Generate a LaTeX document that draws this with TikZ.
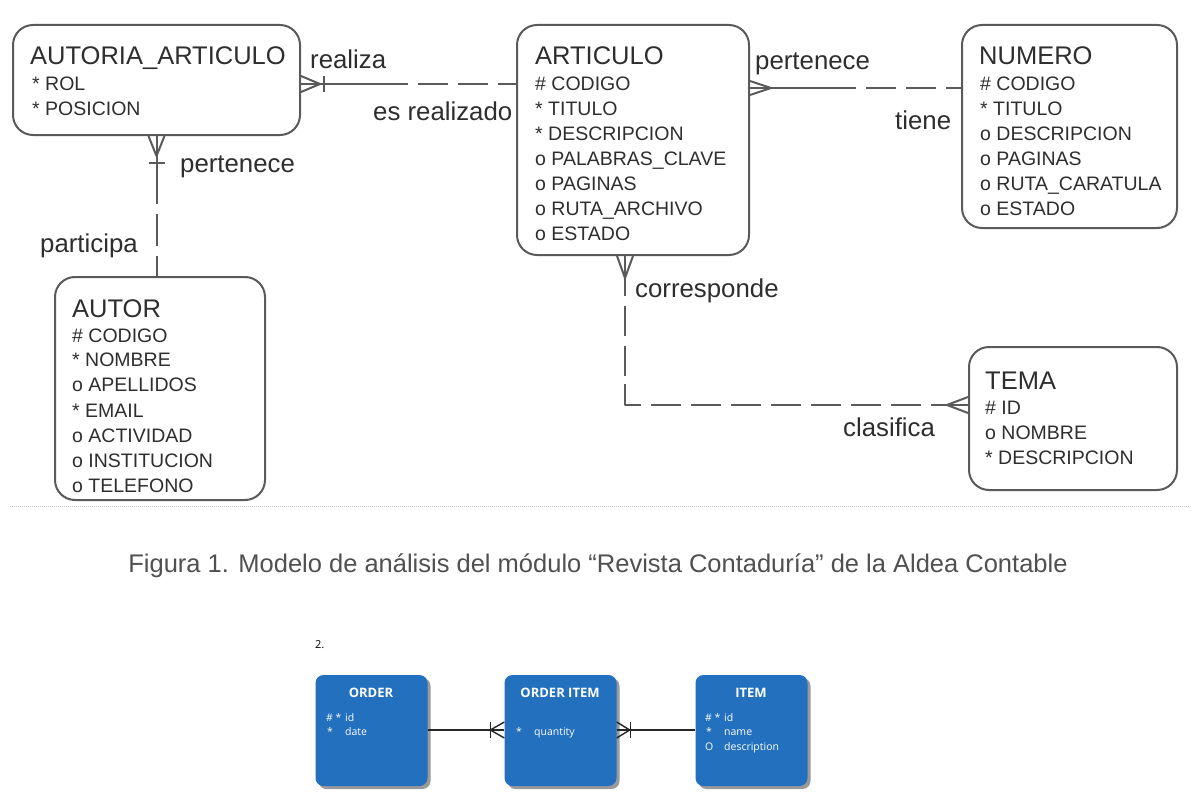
\documentclass[tikz,border=0pt]{standalone}
\usepackage{fontspec}
\setmainfont{Liberation Sans}
\newfontfamily\osfont{Open Sans}
\usetikzlibrary{calc}
\definecolor{linec}{HTML}{5A5A5A}
\definecolor{txtc}{HTML}{2E2E2E}
\definecolor{capc}{HTML}{505050}
\definecolor{bluebox}{HTML}{2270BE}
\definecolor{shade}{HTML}{9A9A9A}
\begin{document}
\begin{tikzpicture}[x=1pt,y=-1pt,
  ent/.style={draw=linec, line width=2pt, rounded corners=20pt, inner sep=0pt, fill=white},
  ttl/.style={anchor=base west, inner sep=0pt, font=\fontsize{25.5}{26}\selectfont, text=txtc},
  att/.style={anchor=base west, inner sep=0pt, font=\fontsize{19.5}{20}\selectfont, text=txtc},
  lbl/.style={anchor=base west, inner sep=0pt, font=\fontsize{25.8}{26}\selectfont, text=txtc},
  rel/.style={line width=2pt, draw=linec},
  dsh/.style={rel, dash pattern=on 30pt off 10pt, dash phase=30pt},
  bbox/.style={fill=bluebox, rounded corners=8pt, inner sep=0pt, minimum width=112pt, minimum height=111pt},
  bshadow/.style={fill=shade, rounded corners=8pt, inner sep=0pt, minimum width=112pt, minimum height=111pt},
  btl/.style={anchor=base, inner sep=0pt, text=white, font=\osfont\bfseries\fontsize{13}{13}\selectfont},
  bat/.style={anchor=base west, inner sep=0pt, text=white, font=\osfont\fontsize{10.5}{11}\selectfont},
  brel/.style={line width=1.4pt, draw=black!85}
]
\useasboundingbox[fill=white] (0,0) rectangle (1200,808);

% ---------- entities (top) ----------
\node[ent, minimum width=287pt, minimum height=110pt] (aa) at (156.5,80) {};
\node[ent, minimum width=232pt, minimum height=230pt] (art) at (633,140) {};
\node[ent, minimum width=215pt, minimum height=203pt] (num) at (1069.5,126.5) {};
\node[ent, minimum width=210pt, minimum height=223pt] (aut) at (160,388.5) {};
\node[ent, minimum width=208pt, minimum height=143pt] (tema) at (1073,418.5) {};

% AUTORIA_ARTICULO
\node[ttl] (aat) at (30,65) {AUTORIA\_ARTICULO};
\node[att] (aa1) at (32,91) {* ROL};
\node[att] (aa2) at (32,115) {* POSICION};

% ARTICULO
\node[ttl] (artt) at (535,65) {ARTICULO};
\node[att] (art1) at (535,91) {\# CODIGO};
\node[att] (art2) at (535,115) {* TITULO};
\node[att] (art3) at (535,140) {* DESCRIPCION};
\node[att] (art4) at (535,165) {o PALABRAS\_CLAVE};
\node[att] (art5) at (535,190) {o PAGINAS};
\node[att] (art6) at (535,215) {o RUTA\_ARCHIVO};
\node[att] (art7) at (535,240) {o ESTADO};

% NUMERO
\node[ttl] (numt) at (979,65) {NUMERO};
\node[att] (num1) at (980,91) {\# CODIGO};
\node[att] (num2) at (980,115) {* TITULO};
\node[att] (num3) at (980,140) {o DESCRIPCION};
\node[att] (num4) at (980,165) {o PAGINAS};
\node[att] (num5) at (980,190) {o RUTA\_CARATULA};
\node[att] (num6) at (980,215) {o ESTADO};

% AUTOR
\node[ttl] (autt) at (72,317) {AUTOR};
\node[att] (aut1) at (72,342) {\# CODIGO};
\node[att] (aut2) at (72,366) {* NOMBRE};
\node[att] (aut3) at (72,391) {o APELLIDOS};
\node[att] (aut4) at (72,417) {* EMAIL};
\node[att] (aut5) at (72,442) {o ACTIVIDAD};
\node[att] (aut6) at (72,467) {o INSTITUCION};
\node[att] (aut7) at (72,492) {o TELEFONO};

% TEMA
\node[ttl] (temt) at (985,389) {TEMA};
\node[att] (tem1) at (985,414) {\# ID};
\node[att] (tem2) at (985,439) {o NOMBRE};
\node[att] (tem3) at (985,464) {* DESCRIPCION};

% ---------- relationships ----------
% AUTORIA_ARTICULO -- ARTICULO
\coordinate (r1a) at ([yshift=-4pt]aa.east);
\coordinate (r1b) at (art.west |- r1a);
\coordinate (r1m) at ($(r1a)+(107,0)$);
\draw[rel] ($(r1a)+(19,0)$) -- ($(r1a)+(0,-8)$)
           ($(r1a)+(19,0)$) -- ($(r1a)+(0,8)$);
\draw[rel] ($(r1a)+(23,-8)$) -- ($(r1a)+(23,8)$);
\draw[rel] (r1a) -- (r1m);
\draw[dsh] (r1m) -- (r1b);
\node[lbl] (l1) at (310,69) {realiza};
\node[lbl] (l2) at (373,121) {es realizado};

% ARTICULO -- NUMERO
\coordinate (r2a) at (art.east |- 0,88);
\coordinate (r2b) at (num.west |- r2a);
\coordinate (r2m) at ($(r2a)+(106,0)$);
\draw[rel] ($(r2a)+(21,0)$) -- ($(r2a)+(0,-7)$)
           ($(r2a)+(21,0)$) -- ($(r2a)+(0,7)$);
\draw[rel] (r2a) -- (r2m);
\draw[dsh] (r2m) -- (r2b);
\node[lbl] (l3) at (755,70) {pertenece};
\node[lbl] (l4) at (895,129) {tiene};

% AUTORIA_ARTICULO -- AUTOR
\coordinate (r3a) at (aa.south);
\coordinate (r3b) at (aut.north -| r3a);
\coordinate (r3m) at ($(r3a)+(0,68)$);
\draw[rel] ($(r3a)+(0,20)$) -- ($(r3a)+(-8,0)$)
           ($(r3a)+(0,20)$) -- ($(r3a)+(8,0)$);
\draw[rel] ($(r3a)+(-8,27)$) -- ($(r3a)+(8,27)$);
\draw[rel] (r3a) -- (r3m);
\draw[rel, dash pattern=on 32pt off 10pt, dash phase=32pt] (r3m) -- (r3b);
\node[lbl] (l5) at (180,172) {pertenece};
\node[lbl] (l6) at (40,252) {participa};

% ARTICULO -- TEMA
\coordinate (r4a) at (art.south -| 625,0);
\coordinate (r4b) at (tema.west |- 0,405);
\coordinate (r4c) at (r4a |- r4b);
\draw[rel] ($(r4a)+(0,22)$) -- ($(r4a)+(-8,0)$)
           ($(r4a)+(0,22)$) -- ($(r4a)+(8,0)$);
\draw[rel] ($(r4b)+(-21,0)$) -- ($(r4b)+(0,-8)$)
           ($(r4b)+(-21,0)$) -- ($(r4b)+(0,8)$);
\draw[rel, line join=round, dash pattern=on 40pt off 10pt on 30pt off 10pt on 30pt off 8pt on 37pt off 10pt on 30pt off 10pt on 30pt off 10pt on 30pt off 10pt on 30pt off 10pt on 30pt off 10pt on 30pt off 10pt on 30pt off 10pt on 60pt off 10pt]
  (r4a) -- (r4c) -- (r4b);
\node[lbl] (l7) at (635,297) {corresponde};
\node[lbl] (l8) at (843,436) {clasifica};

% ---------- separator and caption ----------
\coordinate (s1) at (10,506);
\coordinate (s2) at (1190,506);
\draw[black!22, line width=1pt, dash pattern=on 1pt off 1pt] (s1) -- (s2);
\node[anchor=base, inner sep=0pt, text=capc, font=\fontsize{25.5}{26}\selectfont] (cap) at (598,572)
  {Figura 1. Modelo de análisis del módulo “Revista Contaduría” de la Aldea Contable};

% ---------- second diagram ----------
\node[anchor=base west, inner sep=0pt, font=\osfont\fontsize{11}{11}\selectfont] (n2) at (315,648) {2.};

\node[bshadow] (o-s) at (374.5,733.5) {};
\node[bshadow] (oi-s) at (563.5,733.5) {};
\node[bshadow] (it-s) at (754.5,733.5) {};
\node[bbox] (ord) at (371.5,730.5) {};
\node[bbox] (oit) at (560.5,730.5) {};
\node[bbox] (itm) at (751.5,730.5) {};

\node[btl] (ordt) at (371,697) {ORDER};
\node[bat] (o1a) at (326,721) {\# *};
\node[bat] (o1b) at (345,721) {id};
\node[bat] (o2a) at (327,735) {*};
\node[bat] (o2b) at (345,735) {date};

\node[btl] (oitt) at (560,697) {ORDER ITEM};
\node[bat] (q1a) at (516,735) {*};
\node[bat] (q1b) at (534,735) {quantity};

\node[btl] (itmt) at (751,697) {ITEM};
\node[bat] (i1a) at (705,721) {\# *};
\node[bat] (i1b) at (724,721) {id};
\node[bat] (i2a) at (706,735) {*};
\node[bat] (i2b) at (724,735) {name};
\node[bat] (i3a) at (705,750) {O};
\node[bat] (i3b) at (724,750) {description};

\coordinate (b1a) at (ord.east |- 0,730);
\coordinate (b1b) at (oit.west |- b1a);
\draw[brel] (b1a) -- (b1b);
\draw[brel] ($(b1b)+(-14,0)$) -- ($(b1b)+(0,-8)$)
            ($(b1b)+(-14,0)$) -- ($(b1b)+(0,8)$);
\draw[brel] ($(b1b)+(-14,-8)$) -- ($(b1b)+(-14,8)$);

\coordinate (b2a) at (oit.east |- 0,730);
\coordinate (b2b) at (itm.west |- b2a);
\draw[brel] (b2a) -- (b2b);
\draw[brel] ($(b2a)+(13,0)$) -- ($(b2a)+(0,-8)$)
            ($(b2a)+(13,0)$) -- ($(b2a)+(0,8)$);
\draw[brel] ($(b2a)+(14,-8)$) -- ($(b2a)+(14,8)$);
\end{tikzpicture}
\end{document}
